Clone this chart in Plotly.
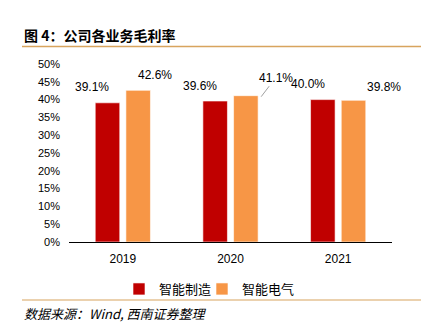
import plotly.graph_objects as go

years = ["2019", "2020", "2021"]
manufacturing = [39.1, 39.6, 40.0]   # 智能制造
electric = [42.6, 41.1, 39.8]        # 智能电气
series_names = ["智能制造", "智能电气"]
y_ticks = [0, 5, 10, 15, 20, 25, 30, 35, 40, 45, 50]
y_tick_text = [f"{v}%" for v in y_ticks]

# style
RED = "#C00000"
ORANGE = "#F79646"
RULE = "#D8A45E"
W, H = 423, 326
ML, MR, MT, MB = 69, 31, 64, 84
PW = W - ML - MR
PH = H - MT - MB


def px_x(p):
    return (p - ML) / PW


def px_y(p):
    return (H - MB - p) / PH


fig = go.Figure()
for k, (name, vals, col) in enumerate([(series_names[0], manufacturing, RED),
                                       (series_names[1], electric, ORANGE)]):
    fig.add_trace(go.Bar(
        x=years, y=vals, name=name,
        legend="legend" if k == 0 else "legend2",
        marker=dict(color=col, line=dict(color="#FFFFFF", width=0.6)),
    ))

# data labels (style offsets in pixels); x given as category index
bar_off = (1 - 0.43) * (PW / 3) / 2
label_font = dict(family="Liberation Sans", size=12, color="#000")
red_dx = [0, 0, 1]
red_dy = [16, 15, 15.5]
org_dx = [1, 14.5, 15]
org_dy = [15, 19, 13]
for i, yr in enumerate(years):
    fig.add_annotation(x=i, y=manufacturing[i], text=f"{manufacturing[i]:.1f}%",
                       showarrow=False, xshift=-bar_off + red_dx[i], yshift=red_dy[i],
                       xanchor="center", yanchor="middle", font=label_font)
    if i == 1:
        fig.add_annotation(x=i, y=electric[i], text=f"{electric[i]:.1f}%",
                           showarrow=True, arrowhead=0, arrowwidth=1, arrowcolor="#A0A0A0",
                           ax=org_dx[i], ay=-org_dy[i], xshift=bar_off, yshift=-1,
                           xanchor="center", yanchor="middle", font=label_font)
    else:
        fig.add_annotation(x=i, y=electric[i], text=f"{electric[i]:.1f}%",
                           showarrow=False, xshift=bar_off + org_dx[i], yshift=org_dy[i],
                           xanchor="center", yanchor="middle", font=label_font)

# title, rules, source
fig.add_annotation(xref="paper", yref="paper", x=px_x(22), y=px_y(35),
                   xanchor="left", yanchor="middle", showarrow=False,
                   text="<b>图 4：公司各业务毛利率</b>",
                   font=dict(family="Noto Sans CJK SC", size=14, color="#000"))
fig.add_shape(type="line", xref="paper", yref="paper", x0=px_x(22), x1=px_x(421),
              y0=px_y(46.5), y1=px_y(46.5), line=dict(color=RULE, width=1.5))
fig.add_shape(type="line", xref="paper", yref="paper", x0=px_x(22), x1=px_x(421),
              y0=px_y(300), y1=px_y(300), line=dict(color=RULE, width=1.2))
fig.add_annotation(xref="paper", yref="paper", x=px_x(22), y=px_y(313),
                   xanchor="left", yanchor="middle", showarrow=False,
                   text="<i>数据来源：Wind, 西南证券整理</i>",
                   font=dict(family="Noto Sans CJK SC", size=13, color="#000"))

legend_style = dict(orientation="h", xanchor="left", yanchor="middle", itemwidth=30,
                    font=dict(family="Noto Sans CJK SC", size=13, color="#000"),
                    bgcolor="rgba(0,0,0,0)")

fig.update_layout(
    width=W, height=H,
    margin=dict(l=ML, r=MR, t=MT, b=MB),
    paper_bgcolor="white", plot_bgcolor="white",
    barmode="group", bargap=0.43, bargroupgap=0.2,
    showlegend=True,
    legend=dict(x=px_x(119), y=px_y(289), **legend_style),
    legend2=dict(x=px_x(202), y=px_y(289), **legend_style),
    xaxis=dict(type="category", range=[-0.5, 2.5], showline=True, linecolor="#000",
               linewidth=1, showgrid=False, ticks="", ticklabelstandoff=6,
               tickfont=dict(family="Liberation Sans", size=12, color="#000")),
    yaxis=dict(range=[0, 50], tickvals=y_ticks, ticktext=y_tick_text, showgrid=False,
               zeroline=False, showline=False, ticks="", ticklabelstandoff=8,
               tickfont=dict(family="Liberation Sans", size=11, color="#000")),
)

fig.write_html("out.html")
